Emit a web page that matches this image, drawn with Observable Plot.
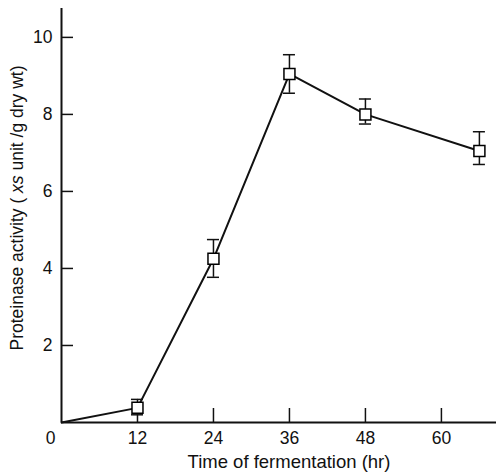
<!DOCTYPE html>
<html><head><meta charset="utf-8">
<script src="https://cdn.jsdelivr.net/npm/d3@7"></script>
<script src="https://cdn.jsdelivr.net/npm/@observablehq/plot@0.6"></script>
<style>body{margin:0;background:#fff}</style>
</head><body><div id="chart"></div>
<script>
const hours = [12, 24, 36, 48, 66];
const activity = [0.38, 4.25, 9.05, 8.0, 7.05];
const errLow = [0.2, 3.77, 8.55, 7.75, 6.7];
const errHigh = [0.6, 4.75, 9.55, 8.4, 7.55];
const xTicks = [12, 24, 36, 48, 60];
const yTicks = [2, 4, 6, 8, 10];
const xLabel = "Time of fermentation (hr)";

const pts = hours.map((h, i) => ({x: h, y: activity[i], lo: errLow[i], hi: errHigh[i]}));
const line = [{x: 0, y: 0}, ...pts];
const capHalf = 0.95;
const font = "Liberation Sans, Arial, sans-serif";

const chart = Plot.plot({
  width: 496, height: 474,
  marginLeft: 61, marginRight: 0, marginTop: 8, marginBottom: 52,
  style: {fontFamily: font, background: "#fff", color: "#111"},
  x: {domain: [0, 68.7]},
  y: {domain: [0, 10.75]},
  marks: [
    Plot.axisX({ticks: xTicks, tickSize: -14, text: null, label: null, strokeWidth: 1.5}),
    Plot.axisX({ticks: xTicks, tickSize: 0, tickPadding: 9, fontSize: 17.5, label: null}),
    Plot.axisY({ticks: yTicks, tickSize: -12, text: null, label: null, strokeWidth: 1.5}),
    Plot.axisY({ticks: yTicks, tickSize: 0, tickPadding: 9, fontSize: 17.5, label: null}),
    Plot.text(["0"], {x: 0, y: 0, dx: -11, dy: 16, fontSize: 17.5, lineAnchor: "middle"}),
    Plot.ruleX([0], {strokeWidth: 2}),
    Plot.ruleY([0], {strokeWidth: 2}),
    Plot.line(line, {x: "x", y: "y", strokeWidth: 2}),
    Plot.ruleX(pts, {x: "x", y1: "lo", y2: "hi", strokeWidth: 1.5}),
    Plot.ruleY(pts, {y: "hi", x1: d => d.x - capHalf, x2: d => d.x + capHalf, strokeWidth: 1.5}),
    Plot.ruleY(pts, {y: "lo", x1: d => d.x - capHalf, x2: d => d.x + capHalf, strokeWidth: 1.5}),
    Plot.dot(pts, {x: "x", y: "y", symbol: "square", r: 6.2, fill: "white", stroke: "black", strokeWidth: 1.5})
  ]
});
const svg = d3.select(chart);
svg.append("text").attr("x", 289).attr("y", 468).attr("text-anchor", "middle")
  .attr("font-size", 18.5).attr("font-family", font).attr("fill", "#111").text(xLabel);
const yl = svg.append("text").attr("transform", "translate(23,208) rotate(-90)")
  .attr("text-anchor", "middle").attr("font-size", 17.5).attr("font-family", font).attr("fill", "#111");
yl.append("tspan").text("Proteinase activity ( ");
yl.append("tspan").attr("font-style", "italic").text("xs");
yl.append("tspan").text(" unit /g dry wt)");
document.getElementById("chart").append(chart);
</script></body></html>
